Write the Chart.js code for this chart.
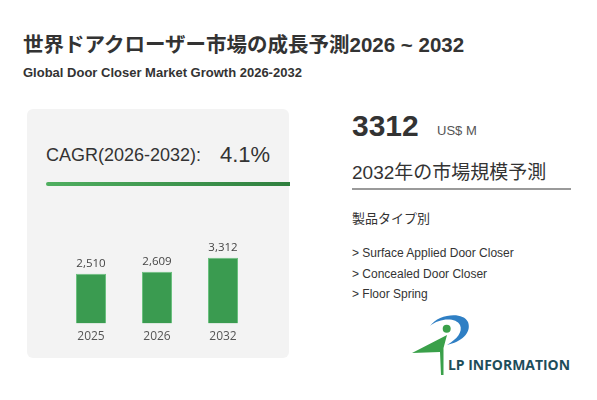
<!DOCTYPE html>
<html><head><meta charset="utf-8">
<script src="https://cdn.jsdelivr.net/npm/chart.js@4"></script>
<style>
html,body{margin:0;padding:0;background:#fff;}
#root{position:relative;width:597px;height:400px;overflow:hidden;font-family:"Liberation Sans",Arial,"Noto Sans CJK JP",sans-serif;color:#333;}
.abs{position:absolute;white-space:nowrap;}
</style></head><body>
<div id="root">
  <div class="abs" style="left:23px;top:28px;font-weight:bold;font-size:20.5px;color:#333;font-family:'Liberation Sans','Noto Sans CJK JP',sans-serif;">世界ドアクローザー市場の成長予測2026 ~ 2032</div>
  <div class="abs" style="left:23px;top:65px;font-weight:bold;font-size:13px;color:#333;">Global Door Closer Market Growth 2026-2032</div>

  <div class="abs" style="left:27px;top:109px;width:262px;height:249px;background:#f3f3f3;border-radius:6px;"></div>
  <div class="abs" style="left:46px;top:145px;font-size:18px;color:#333;">CAGR(2026-2032):</div>
  <div class="abs" style="left:220px;top:142px;font-size:22px;color:#333;">4.1%</div>
  <div class="abs" style="left:46px;top:182px;width:244px;height:4px;border-radius:2px 0 0 2px;background:linear-gradient(90deg,#4fae5f,#2f7f3e);"></div>

  <canvas id="c" class="abs" width="198" height="120" style="left:58px;top:230px;width:198px;height:120px;"></canvas>

  <div class="abs" style="left:352px;top:109px;font-weight:bold;font-size:30px;color:#333;">3312</div>
  <div class="abs" style="left:437px;top:123px;font-size:13px;color:#555;">US$ M</div>
  <div class="abs" style="left:352px;top:157px;font-size:19px;color:#333;font-family:'Liberation Sans','Noto Sans CJK JP',sans-serif;">2032年の市場規模予測</div>
  <div class="abs" style="left:352px;top:188px;width:219px;height:2px;background:#9a9a9a;"></div>
  <div class="abs" style="left:352px;top:208px;font-size:13px;color:#333;font-family:'Noto Sans CJK JP',sans-serif;">製品タイプ別</div>
  <div id="list" class="abs" style="left:352px;top:243px;font-size:12px;color:#333;line-height:20.5px;"></div>

  <svg class="abs" style="left:405px;top:308px;" width="180" height="75" viewBox="0 0 180 75">
    <path d="M25 18 C 33 6, 58 3, 63 14 C 67 25, 56 34, 42 37 C 52 31, 58 24, 55 17 C 51 9, 34 10, 25 18 Z" fill="#2f7fc4"/>
    <circle cx="41.7" cy="20.7" r="4" fill="#3aa04a"/>
    <path d="M7 45 L42 27 L38.5 40 L38.5 67 L36 67 L35 44 Z" fill="#3aa04a"/>
    <text x="43" y="62" font-family="Open Sans, Liberation Sans, sans-serif" font-weight="bold" font-size="14" textLength="122" lengthAdjust="spacingAndGlyphs" fill="#1e4d5a">LP INFORMATION</text>
  </svg>
</div>
<script>
const categories = ["2025", "2026", "2032"];
const marketValues = [2510, 2609, 3312];
const valueLabels = ["2,510", "2,609", "3,312"];
const segments = ["Surface Applied Door Closer", "Concealed Door Closer", "Floor Spring"];

document.getElementById('list').innerHTML = segments.map(s => '&gt; ' + s).join('<br>');

const labelPlugin = {
  id: 'valueLabels',
  afterDatasetsDraw(chart) {
    const ctx = chart.ctx;
    const meta = chart.getDatasetMeta(0);
    ctx.save();
    ctx.font = '11.5px "Open Sans", sans-serif';
    ctx.fillStyle = '#444';
    ctx.textAlign = 'center';
    ctx.textBaseline = 'bottom';
    meta.data.forEach((bar, i) => {
      ctx.fillText(valueLabels[i], bar.x, bar.y - 4);
    });
    ctx.restore();
  }
};

new Chart(document.getElementById('c'), {
  type: 'bar',
  data: {
    labels: categories,
    datasets: [{
      data: marketValues,
      backgroundColor: '#3a9b50',
      borderColor: '#6cc07f',
      borderWidth: 1,
      barPercentage: 0.455,
      categoryPercentage: 1.0
    }]
  },
  options: {
    responsive: false,
    maintainAspectRatio: false,
    animation: false,
    devicePixelRatio: 1,
    layout: { padding: { top: 14, bottom: 0, left: 0, right: 0 } },
    plugins: { legend: { display: false }, tooltip: { enabled: false } },
    scales: {
      y: { display: false, min: 0, max: 4000 },
      x: {
        grid: { display: false, drawTicks: false },
        border: { display: false },
        ticks: { color: '#555', font: { family: '"Open Sans", sans-serif', size: 12 }, padding: 6 }
      }
    }
  },
  plugins: [labelPlugin]
});
</script>
</body></html>
